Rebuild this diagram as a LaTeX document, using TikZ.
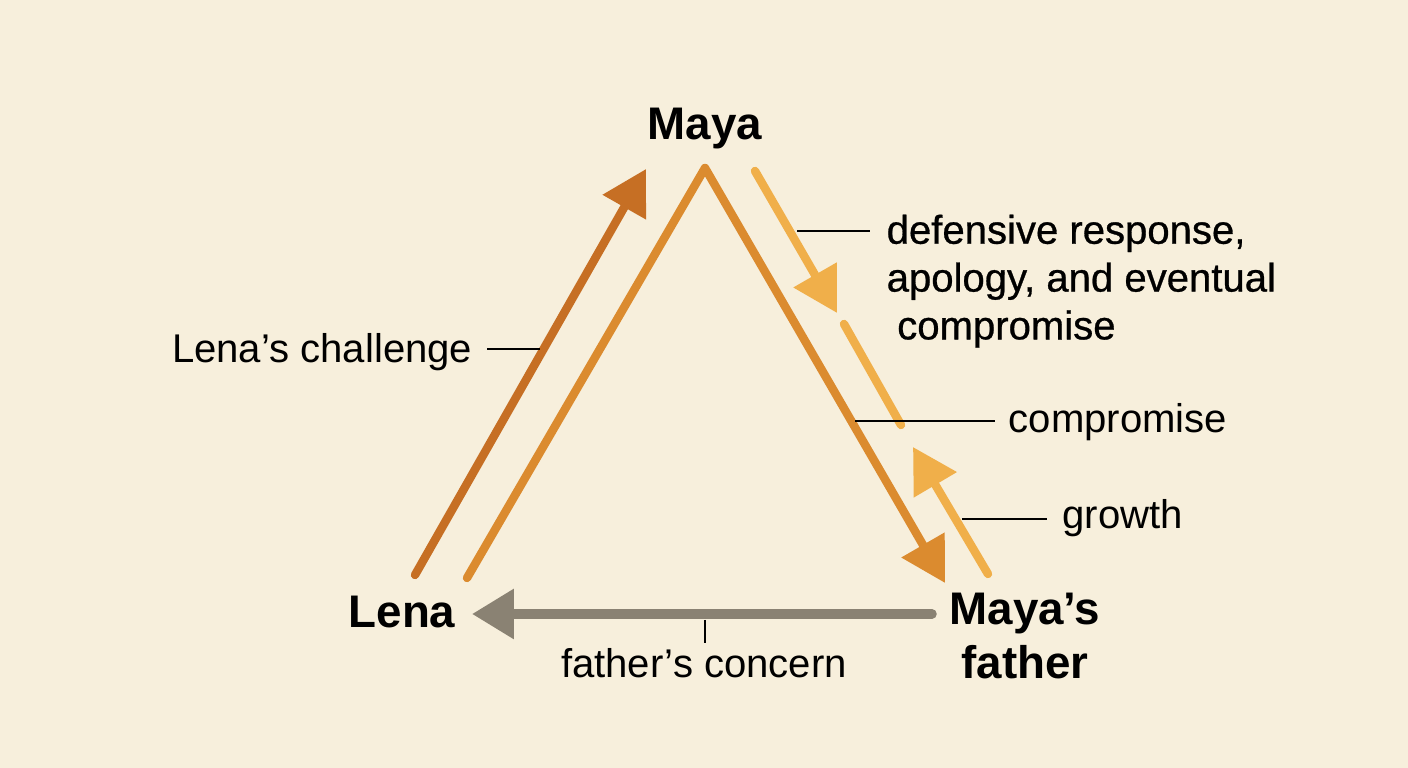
\documentclass[tikz,border=0pt]{standalone}
\usepackage{fontspec}
\setmainfont{Liberation Sans}
\newfontfamily\mediumfont[FakeBold=0.7]{Liberation Sans}
\usetikzlibrary{arrows.meta}

\definecolor{paper}{HTML}{F7EFDC}
\definecolor{rust}{HTML}{C66F24}
\definecolor{amber}{HTML}{DB8B2F}
\definecolor{honey}{HTML}{F0AF4A}
\definecolor{stone}{HTML}{8A8273}

\begin{document}
\begin{tikzpicture}
        % Units of one pixel, y pointing down
        \tikzset{
            x={(0.01cm, 0)}, y={(0cm, -0.01cm)},
            person/.style={font=\fontsize{13}{15.4}\selectfont\bfseries,
            inner sep=0},
            note/.style={font=\fontsize{11.4}{13.6}\selectfont, inner sep=0},
            leader/.style={black, line width=0.5pt},
            flow/.style={line width=2.4pt, line cap=round, line join=round,
            -{Triangle[length=12.5pt, width=13.6pt]}},
        }

        % Background fixes the bounding box
        \fill[paper] (0, 0) rectangle (1408, 768);

        % Arrow end points
        \coordinate (C1) at (415, 575);
        \coordinate (C2) at (646, 169);
        \coordinate (T1) at (467, 578);
        \coordinate (T2) at (705, 168);
        \coordinate (T3) at (945, 583);
        \coordinate (D1) at (755, 171);
        \coordinate (D2) at (837, 313);
        \coordinate (D3) at (844, 324);
        \coordinate (D4) at (901, 425);
        \coordinate (G1) at (988, 574);
        \coordinate (G2) at (913, 447);
        \coordinate (F1) at (932, 614);
        \coordinate (F2) at (472, 614);

        % Leader end points
        \coordinate (L1) at (487, 349);
        \coordinate (L2) at (540, 349);
        \coordinate (R1) at (797, 231);
        \coordinate (R2) at (870, 231);
        \coordinate (P1) at (855, 421);
        \coordinate (P2) at (995, 421);
        \coordinate (W1) at (962, 519);
        \coordinate (W2) at (1047, 519);
        \coordinate (K1) at (705, 620);
        \coordinate (K2) at (705, 643);

        % People
        \node[person, anchor=base] (maya) at (705, 140) {Maya};
        \node[person, anchor=base] (lena) at (402, 628) {Lena};
        \node[person, anchor=north, align=center] (father) at (1025, 592)
        {Maya’s\\father};

        % Labels
        \node[note, anchor=base east] (challenge) at (473, 363)
        {Lena’s challenge};
        \node[note, anchor=north west, align=left] (defensive) at (886, 214)
        {\mediumfont defensive response,\\\mediumfont apology, and eventual\\
        \hspace*{3pt}\mediumfont compromise};
        \node[note, anchor=base west] (compromise) at (1008, 433)
        {compromise};
        \node[note, anchor=base west] (growth) at (1062, 529) {growth};
        \node[note, anchor=base] (concern) at (704, 678) {father’s concern};

        \begin{scope}
            \draw[flow, rust] (C1) -- (C2);
            \draw[flow, amber] (T1) -- (T2) -- (T3);
            \draw[flow, honey] (D1) -- (D2);
            \draw[honey, line width=2.4pt, line cap=round] (D3) -- (D4);
            \draw[flow, honey] (G1) -- (G2);
            \draw[flow, stone, line width=2.7pt,
            -{Triangle[length=11.9pt, width=13.6pt]}] (F1) -- (F2);
        \end{scope}

        \begin{scope}[leader]
            \draw (L1) -- (L2);
            \draw (R1) -- (R2);
            \draw (P1) -- (P2);
            \draw (W1) -- (W2);
            \draw (K1) -- (K2);
        \end{scope}

\end{tikzpicture}
\end{document}
